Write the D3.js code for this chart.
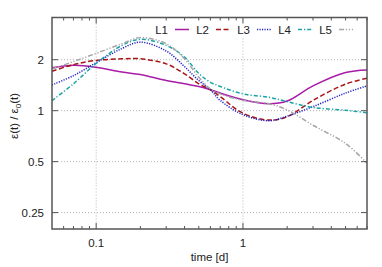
<!DOCTYPE html>
<html>
<head>
<meta charset="utf-8">
<script src="https://cdn.jsdelivr.net/npm/d3@7"></script>
<style>
  html, body { margin: 0; padding: 0; background: #fff; }
  svg { display: block; font-family: "Liberation Sans", Arial, sans-serif; }
</style>
</head>
<body>
<div class="chart"></div>
<script>
// time [d] sample points shared by all series
const times = [0.05, 0.07, 0.1, 0.15, 0.2, 0.3, 0.4, 0.5, 0.6, 0.7, 1, 1.5, 2, 3, 5, 7];

const L1 = [1.79, 1.855, 1.805, 1.69, 1.635, 1.506, 1.44, 1.39, 1.33, 1.27, 1.16, 1.10, 1.14, 1.40, 1.68, 1.74];
const L2 = [1.71, 1.87, 1.98, 2.025, 2.025, 1.89, 1.65, 1.44, 1.33, 1.21, 0.965, 0.88, 0.92, 1.15, 1.435, 1.555];
const L3 = [1.42, 1.61, 1.92, 2.33, 2.54, 2.25, 1.82, 1.506, 1.33, 1.15, 0.947, 0.872, 0.928, 1.056, 1.27, 1.40];
const L4 = [1.146, 1.44, 1.90, 2.43, 2.64, 2.43, 2.07, 1.66, 1.47, 1.39, 1.256, 1.20, 1.13, 1.045, 1.005, 0.973];
const L5 = [1.76, 1.95, 2.18, 2.485, 2.70, 2.485, 2.025, 1.575, 1.345, 1.256, 1.15, 1.10, 1.01, 0.82, 0.64, 0.49];

const seriesNames = ['L1', 'L2', 'L3', 'L4', 'L5'];
const seriesValues = [L1, L2, L3, L4, L5];

const xMajor = [0.1, 1];
const xMajorLabels = ['0.1', '1'];
const xMinor = [0.06, 0.07, 0.08, 0.09, 0.2, 0.3, 0.4, 0.5, 0.6, 0.7, 0.8, 0.9, 2, 3, 4, 5, 6, 7];
const yMajor = [0.25, 0.5, 1, 2];
const yMajorLabels = ['0.25', '0.5', '1', '2'];

const _width = 382;
const _height = 267;
const _left = 52, _right = 367, _top = 17.5, _bottom = 229;

const colors = ['#a81ca8', '#a81414', '#2222c4', '#18a4a4', '#a6a6a6'];
const dashes = [null, '5,2.5', '1.2,1.3', '4,2,1.2,2', '5,1.8,1.2,1.8,1.2,1.8'];

const svg = d3.select('.chart').append('svg')
  .attr('width', _width)
  .attr('height', _height);

const xScale = d3.scaleLog().domain([0.05, 7]).range([_left, _right]);
const yScale = d3.scaleLog().base(2).domain([0.2, 3.55]).range([_bottom, _top]);

// grid
const grid = svg.append('g')
  .style('stroke', '#b4b4b4')
  .style('stroke-width', '1px')
  .style('stroke-dasharray', '1,2');
grid.selectAll('.gx').data(xMajor).enter().append('line')
  .attr('x1', d => xScale(d)).attr('x2', d => xScale(d))
  .attr('y1', _top).attr('y2', _bottom);
grid.selectAll('.gy').data(yMajor).enter().append('line')
  .attr('x1', _left).attr('x2', _right)
  .attr('y1', d => yScale(d)).attr('y2', d => yScale(d));

// opaque key box
svg.append('rect')
  .attr('x', 150).attr('y', 23)
  .attr('width', 212).attr('height', 14)
  .style('fill', '#fff');

svg.append('defs').append('clipPath')
  .attr('id', 'clip')
  .append('rect')
  .attr('x', _left).attr('y', _top)
  .attr('width', _right - _left).attr('height', _bottom - _top);

const line = d3.line()
  .x(d => xScale(d[0]))
  .y(d => yScale(d[1]))
  .curve(d3.curveCatmullRom.alpha(0.5));

const lines = svg.append('g').attr('clip-path', 'url(#clip)');
seriesValues.forEach((vals, i) => {
  const points = times.map((t, j) => [t, vals[j]]);
  lines.append('path')
    .attr('d', line(points))
    .style('fill', 'none')
    .style('stroke', colors[i])
    .style('stroke-width', '1.5px')
    .style('stroke-dasharray', dashes[i]);
});

// border + mirrored ticks
const axis = svg.append('g').style('stroke', '#555').style('stroke-width', '1px');
axis.append('rect')
  .attr('x', _left).attr('y', _top)
  .attr('width', _right - _left).attr('height', _bottom - _top)
  .style('fill', 'none')
  .style('stroke-width', '1.5px');

[[xMajor, 6], [xMinor, 3]].forEach(([ticks, len]) => {
  axis.selectAll(null).data(ticks).enter().append('line')
    .attr('x1', d => xScale(d)).attr('x2', d => xScale(d))
    .attr('y1', _bottom).attr('y2', _bottom - len);
  axis.selectAll(null).data(ticks).enter().append('line')
    .attr('x1', d => xScale(d)).attr('x2', d => xScale(d))
    .attr('y1', _top).attr('y2', _top + len);
});
axis.selectAll(null).data(yMajor).enter().append('line')
  .attr('x1', _left).attr('x2', _left + 6)
  .attr('y1', d => yScale(d)).attr('y2', d => yScale(d));
axis.selectAll(null).data(yMajor).enter().append('line')
  .attr('x1', _right).attr('x2', _right - 6)
  .attr('y1', d => yScale(d)).attr('y2', d => yScale(d));

// tick labels
svg.selectAll('.xl').data(xMajor).enter().append('text')
  .attr('x', d => xScale(d))
  .attr('y', 247)
  .style('text-anchor', 'middle')
  .style('font-size', '11.5px')
  .style('fill', '#222')
  .text((d, i) => xMajorLabels[i]);
svg.selectAll('.yl').data(yMajor).enter().append('text')
  .attr('x', 44)
  .attr('y', d => yScale(d) + 4)
  .style('text-anchor', 'end')
  .style('font-size', '11.5px')
  .style('fill', '#222')
  .text((d, i) => yMajorLabels[i]);

// axis labels
svg.append('text')
  .attr('x', (_left + _right) / 2)
  .attr('y', 261)
  .style('text-anchor', 'middle')
  .style('font-size', '11.5px')
  .style('fill', '#222')
  .text('time [d]');

const ylab = svg.append('text')
  .attr('transform', 'translate(18,116) rotate(-90)')
  .style('text-anchor', 'middle')
  .style('font-size', '11.5px')
  .style('fill', '#222');
ylab.append('tspan').text('ε(t) / ε');
ylab.append('tspan').attr('dy', 3).style('font-size', '8px').text('0');
ylab.append('tspan').attr('dy', -3).text('(t)');

// key
seriesNames.forEach((name, i) => {
  const x0 = 168 + 41 * i;
  svg.append('text')
    .attr('x', x0)
    .attr('y', 33.5)
    .style('text-anchor', 'end')
    .style('font-size', '11.5px')
    .style('fill', '#222')
    .text(name);
  svg.append('line')
    .attr('x1', x0 + 7).attr('x2', x0 + 21)
    .attr('y1', 29.5).attr('y2', 29.5)
    .style('stroke', colors[i])
    .style('stroke-width', '1.5px')
    .style('stroke-dasharray', dashes[i]);
});
</script>
</body>
</html>
